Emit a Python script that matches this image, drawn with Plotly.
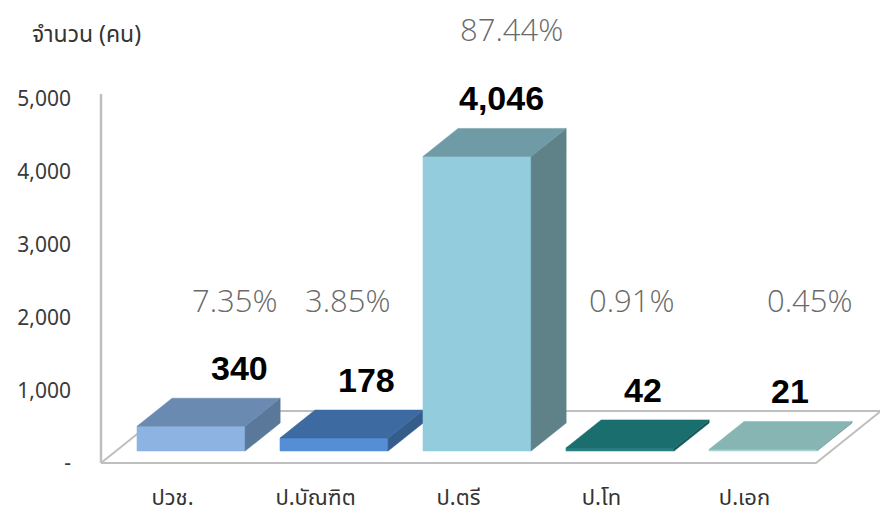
import plotly.graph_objects as go

# ---- data ----
categories = ["ปวช.", "ป.บัณฑิต", "ป.ตรี", "ป.โท", "ป.เอก"]
counts = [340, 178, 4046, 42, 21]
percents = ["7.35%", "3.85%", "87.44%", "0.91%", "0.45%"]
y_ticks = [0, 1000, 2000, 3000, 4000, 5000]
y_tick_labels = ["-", "1,000", "2,000", "3,000", "4,000", "5,000"]
y_title = "จำนวน (คน)"

# ---- styles ----
front_colors = ["#8DB3E2", "#558ED5", "#93CDDD", "#2A8080", "#A4D3D2"]
top_colors = ["#6A8AB1", "#3D6AA0", "#6F9BA7", "#1B6E6E", "#87B5B4"]
side_colors = ["#5A7899", "#355D8C", "#5E8288", "#165A5A", "#74A2A1"]

W, H = 880, 516
ML, MR, MT, MB = 72, 0, 20, 34
PX_X = 143.0          # pixels per category unit
PX_Y = 0.0728         # pixels per count unit
X0_PIX = 101          # pixel of category edge -0.5
Y0_PIX = 463          # pixel of count 0

plot_w = W - ML - MR
plot_h = H - MT - MB
x_lo = -0.5 - (X0_PIX - ML) / PX_X
x_hi = x_lo + plot_w / PX_X
y_lo = -(H - MB - Y0_PIX) / PX_Y
y_hi = y_lo + plot_h / PX_Y

# oblique depth vector (data units per unit depth)
DX = 65 / PX_X
DY = 52 / PX_Y
D_FRONT, D_BACK = 0.23, 0.77
HW = 0.378
BAR_SHIFT = 0.025

THAI = "Noto Sans Thai, Tahoma, DejaVu Sans, sans-serif"

fig = go.Figure()

# floor
n = len(categories)
fig.add_trace(go.Scatter(
    x=[-0.5, n - 0.5, n - 0.5 + DX, -0.5 + DX, -0.5],
    y=[0, 0, DY, DY, 0],
    mode="lines", fill="toself", fillcolor="white",
    line=dict(color="#BFBFBF", width=2), hoverinfo="skip", showlegend=False))
# vertical wall edge
fig.add_trace(go.Scatter(
    x=[-0.5, -0.5], y=[0, 5070], mode="lines",
    line=dict(color="#BFBFBF", width=2.5), hoverinfo="skip", showlegend=False))


def poly(xs, ys, color):
    fig.add_trace(go.Scatter(
        x=xs + [xs[0]], y=ys + [ys[0]], mode="lines", fill="toself",
        fillcolor=color, line=dict(color=color, width=0.5),
        hoverinfo="skip", showlegend=False))


value_label_dx = [0.47, 0.36, 0.30, 0.29, 0.32]
for i, v in enumerate(counts):
    c = i + BAR_SHIFT
    x0, x1 = c - HW, c + HW
    fx, fy = D_FRONT * DX, D_FRONT * DY
    bx, by = D_BACK * DX, D_BACK * DY
    # front
    poly([x0 + fx, x1 + fx, x1 + fx, x0 + fx], [fy, fy, v + fy, v + fy], front_colors[i])
    # side
    poly([x1 + fx, x1 + bx, x1 + bx, x1 + fx], [fy, by, v + by, v + fy], side_colors[i])
    # top
    poly([x0 + fx, x1 + fx, x1 + bx, x0 + bx], [v + fy, v + fy, v + by, v + by], top_colors[i])
    # value label
    fig.add_annotation(x=i + value_label_dx[i], y=v + by, text="<b>%s</b>" % format(v, ","),
                       showarrow=False, yanchor="middle", yshift=30,
                       font=dict(family="Liberation Sans, Arial", size=34, color="black"))

# percent text boxes
pct_label_dx = [0.44, 0.23, 0.37, 0.21, 0.46]
pct_label_y = [2245, 2245, 5964, 2245, 2245]
for i, p in enumerate(percents):
    fig.add_annotation(x=i + pct_label_dx[i], y=pct_label_y[i], text=p, showarrow=False,
                       yanchor="middle",
                       font=dict(family="Open Sans", size=31, color="#6A6A6A", weight=300))

# y title
fig.add_annotation(xref="paper", yref="paper",
                   x=(30 - ML) / plot_w, y=(H - MB - 35) / plot_h,
                   text=y_title, showarrow=False, xanchor="left", yanchor="middle",
                   font=dict(family=THAI, size=23, color="#333333"))

fig.update_layout(
    width=W, height=H, margin=dict(l=ML, r=MR, t=MT, b=MB),
    paper_bgcolor="white", plot_bgcolor="white",
    xaxis=dict(range=[x_lo, x_hi], tickvals=list(range(n)), ticktext=categories,
               showgrid=False, zeroline=False, showline=False, ticks="",
               tickfont=dict(family=THAI, size=22, color="#333333")),
    yaxis=dict(range=[y_lo, y_hi], tickvals=y_ticks, ticktext=y_tick_labels,
               showgrid=False, zeroline=False, showline=False, ticks="",
               tickfont=dict(family="Noto Sans, DejaVu Sans, sans-serif", size=21, color="#3A3A3A")),
)

fig.write_html("out.html", config={"displayModeBar": False},
               post_script="document.body.style.margin='0';")
